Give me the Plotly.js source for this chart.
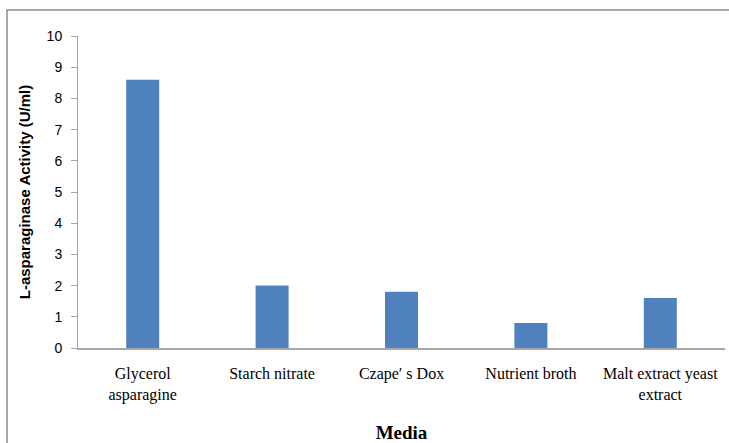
<!DOCTYPE html>
<html>
<head>
<meta charset="utf-8">
<script src="https://cdn.plot.ly/plotly-3.0.1.min.js"></script>
<style>
html,body{margin:0;padding:0;background:#fff;}
#chart{width:729px;height:443px;}
</style>
</head>
<body>
<div id="chart"></div>
<script>
var media = ["Glycerol<br>asparagine", "Starch nitrate", "Czape\u2032 s Dox", "Nutrient broth", "Malt extract yeast<br>extract"];
var activity = [8.6, 2.0, 1.8, 0.8, 1.6];
var yTicks = [0, 1, 2, 3, 4, 5, 6, 7, 8, 9, 10];

var trace = {
  type: "bar",
  x: media,
  y: activity,
  width: 0.255,
  marker: {color: "#4F81BD", line: {width: 0}},
  hoverinfo: "x+y"
};

var layout = {
  width: 729,
  height: 443,
  margin: {l: 78, r: 4, t: 36, b: 95},
  paper_bgcolor: "#ffffff",
  plot_bgcolor: "#ffffff",
  showlegend: false,
  bargap: 0.745,
  xaxis: {
    type: "category",
    showline: true,
    linecolor: "#A6A6A6",
    linewidth: 1.5,
    ticks: "outside",
    ticklen: 10,
    tickcolor: "rgba(0,0,0,0)",
    showgrid: false,
    zeroline: false,
    tickfont: {family: "Liberation Serif, Times New Roman, serif", size: 16, color: "#000"},
    title: {text: "<b>Media</b>", font: {family: "Liberation Serif, Times New Roman, serif", size: 19, color: "#000"}, standoff: 30}
  },
  yaxis: {
    range: [0, 10],
    tickvals: yTicks,
    ticktext: yTicks.map(String),
    showline: true,
    linecolor: "#A6A6A6",
    linewidth: 1,
    ticks: "outside",
    ticklen: 6,
    tickcolor: "#A6A6A6",
    ticklabelstandoff: 6,
    showgrid: false,
    zeroline: false,
    tickfont: {family: "Liberation Sans, Arial, sans-serif", size: 14, color: "#000"},
    title: {text: "<b>L-asparaginase Activity (U/ml)</b>", font: {family: "Liberation Sans, Arial, sans-serif", size: 15, color: "#000"}, standoff: 12}
  },
  shapes: [{
    type: "rect",
    xref: "paper", yref: "paper",
    x0: (7 - 78) / 647, x1: (740 - 78) / 647,
    y0: (348 - 460) / 312, y1: (348 - 10) / 312,
    line: {color: "#8C8C8C", width: 1.5},
    fillcolor: "rgba(0,0,0,0)",
    layer: "below"
  }]
};

Plotly.newPlot("chart", [trace], layout, {displayModeBar: false, staticPlot: true});
</script>
</body>
</html>
